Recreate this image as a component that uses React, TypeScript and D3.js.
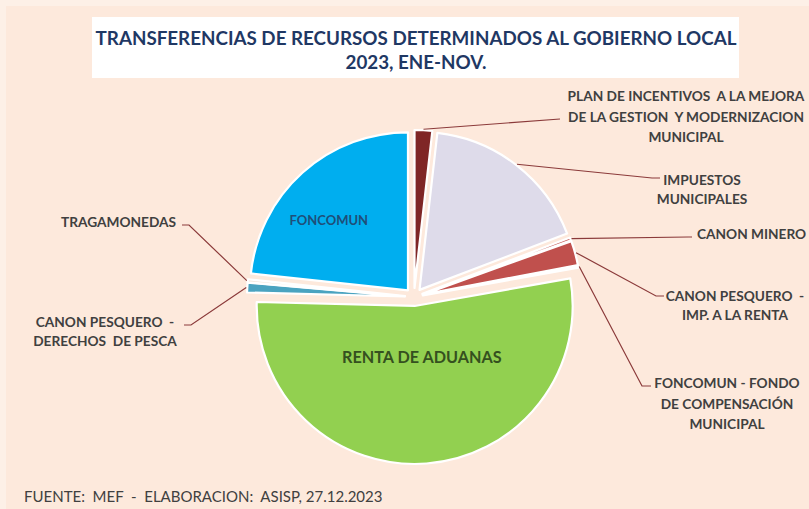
import { useMemo } from 'react';
import * as d3 from 'd3';

// slices, clockwise from 12 o'clock
const categories = [
  'PLAN DE INCENTIVOS A LA MEJORA DE LA GESTION Y MODERNIZACION MUNICIPAL',
  'IMPUESTOS MUNICIPALES',
  'CANON MINERO',
  'CANON PESQUERO - IMP. A LA RENTA',
  'FONCOMUN - FONDO DE COMPENSACIÓN MUNICIPAL',
  'RENTA DE ADUANAS',
  'CANON PESQUERO - DERECHOS DE PESCA',
  'TRAGAMONEDAS',
  'FONCOMUN',
];
const shares = [1.8, 17.4, 0.3, 2.5, 0.2, 53.2, 1.0, 0.3, 23.3];
const sliceColors = ['#7f2626', '#dedbea', '#c55a57', '#c0504d', '#92d050', '#92d050', '#4aa3c0', '#f2e6dc', '#00aeef'];

const labelLines = [
  ['PLAN DE INCENTIVOS  A LA MEJORA', 'DE LA GESTION  Y MODERNIZACION', 'MUNICIPAL'],
  ['IMPUESTOS', 'MUNICIPALES'],
  ['CANON MINERO'],
  ['CANON PESQUERO  -', 'IMP. A LA RENTA'],
  ['FONCOMUN - FONDO', 'DE COMPENSACIÓN', 'MUNICIPAL'],
  [],
  ['CANON PESQUERO  -', 'DERECHOS  DE PESCA'],
  ['TRAGAMONEDAS'],
  [],
];
const insideLabels = ['', '', '', '', '', 'RENTA DE ADUANAS', '', '', 'FONCOMUN'];

const titleLines = ['TRANSFERENCIAS DE RECURSOS DETERMINADOS AL GOBIERNO LOCAL', '2023, ENE-NOV.'];
const sourceNote = 'FUENTE:  MEF  -  ELABORACION:  ASISP, 27.12.2023';

const W = 809;
const H = 509;
const FONT = 'Lato, "Open Sans", sans-serif';

type Layout = {
  x: number; y: number; gap: number; anchor: 'start' | 'middle' | 'end';
  lx: number; ly: number; elbow?: [number, number];
};

// label layout: text block anchor (x, first baseline), line gap, leader end point
const labelLayout: Record<number, Layout> = {
  0: { x: 686, y: 101, gap: 20.5, anchor: 'middle', lx: 560, ly: 119 },
  1: { x: 702, y: 185, gap: 19, anchor: 'middle', lx: 660, ly: 178, elbow: [652, 178] },
  2: { x: 697, y: 239, gap: 19, anchor: 'start', lx: 692, ly: 237, elbow: [688, 237] },
  3: { x: 735, y: 301, gap: 18.5, anchor: 'middle', lx: 664, ly: 296, elbow: [656, 296] },
  4: { x: 727, y: 388, gap: 20.5, anchor: 'middle', lx: 651, ly: 386, elbow: [642, 386] },
  6: { x: 105, y: 327, gap: 18.5, anchor: 'middle', lx: 184, ly: 325, elbow: [191, 325] },
  7: { x: 176, y: 227, gap: 19, anchor: 'end', lx: 182, ly: 225, elbow: [189, 225] },
};

export default function App() {
  const cx = 414;
  const cy = 297;
  const r = 158;
  const explode = 9;

  const arcs = useMemo(() => {
    const pie = d3.pie<number>().sort(null).value(d => d).startAngle(0).endAngle(2 * Math.PI);
    return pie(shares);
  }, []);

  const arcGen = d3.arc<d3.PieArcDatum<number>>().innerRadius(0).outerRadius(r);

  const offsetOf = (a: d3.PieArcDatum<number>) => {
    const mid = (a.startAngle + a.endAngle) / 2;
    return [Math.sin(mid) * explode, -Math.cos(mid) * explode];
  };

  return (
    <svg width={W} height={H} style={{ position: 'absolute', left: 0, top: 0, display: 'block' }}>
      <rect x={0} y={0} width={W} height={H} fill="#fde9dc" />
      <rect x={0} y={0} width={W} height={6} fill="#fdf0e7" />
      <rect x={0} y={0} width={6} height={H} fill="#fdf0e7" />

      {/* title */}
      <rect x={92} y={17} width={647} height={61} fill="#ffffff" />
      {titleLines.map((t, i) => (
        <text key={i} x={416} y={45 + i * 24} textAnchor="middle" fontFamily={FONT} fontWeight={700}
          fontSize={18.8} fill="#1f3864">{t}</text>
      ))}

      {/* slices */}
      <g transform={`translate(${cx},${cy})`}>
        {arcs.map((a, i) => {
          const [dx, dy] = offsetOf(a);
          return (
            <path key={i} d={arcGen(a) || ''} transform={`translate(${dx},${dy})`}
              fill={sliceColors[i]} stroke="#ffffff" strokeWidth={2.2} strokeLinejoin="round" />
          );
        })}
      </g>

      {/* leader lines */}
      {arcs.map((a, i) => {
        const lay = labelLayout[i];
        if (!lay) return null;
        const [dx, dy] = offsetOf(a);
        const mid = (a.startAngle + a.endAngle) / 2;
        const sx = cx + dx + Math.sin(mid) * (r + 1);
        const sy = cy + dy - Math.cos(mid) * (r + 1);
        const pts: [number, number][] = [[sx, sy]];
        if (lay.elbow) pts.push(lay.elbow);
        pts.push([lay.lx, lay.ly]);
        return (
          <polyline key={i} points={pts.map(p => p.join(',')).join(' ')} fill="none"
            stroke="#8b3a3a" strokeWidth={1.2} />
        );
      })}

      {/* outside labels */}
      {labelLines.map((lines, i) => {
        const lay = labelLayout[i];
        if (!lay || !lines.length) return null;
        return (
          <text key={i} fontFamily={FONT} fontWeight={700} fontSize={13.7} fill="#404040" textAnchor={lay.anchor}>
            {lines.map((l, j) => (
              <tspan key={j} x={lay.x} y={lay.y + j * lay.gap} style={{ whiteSpace: 'pre' }}>{l}</tspan>
            ))}
          </text>
        );
      })}

      {/* inside labels */}
      {arcs.map((a, i) => {
        if (!insideLabels[i]) return null;
        const [dx, dy] = offsetOf(a);
        const c = arcGen.centroid(a);
        const big = insideLabels[i] === 'RENTA DE ADUANAS';
        const kx = big ? 1.2 : 1.5;
        const ky = big ? 0.64 : 1.2;
        return (
          <text key={i} x={cx + dx + c[0] * kx} y={cy + dy + c[1] * ky}
            textAnchor="middle" dominantBaseline="central" fontFamily={FONT} fontWeight={700}
            fontSize={big ? 16.2 : 13} fill={big ? '#35501f' : '#1f4e79'} style={{ whiteSpace: 'pre' }}>
            {insideLabels[i]}
          </text>
        );
      })}

      <text x={24} y={502} fontFamily={FONT} fontSize={15} fill="#404040" style={{ whiteSpace: 'pre' }}>{sourceNote}</text>
    </svg>
  );
}
